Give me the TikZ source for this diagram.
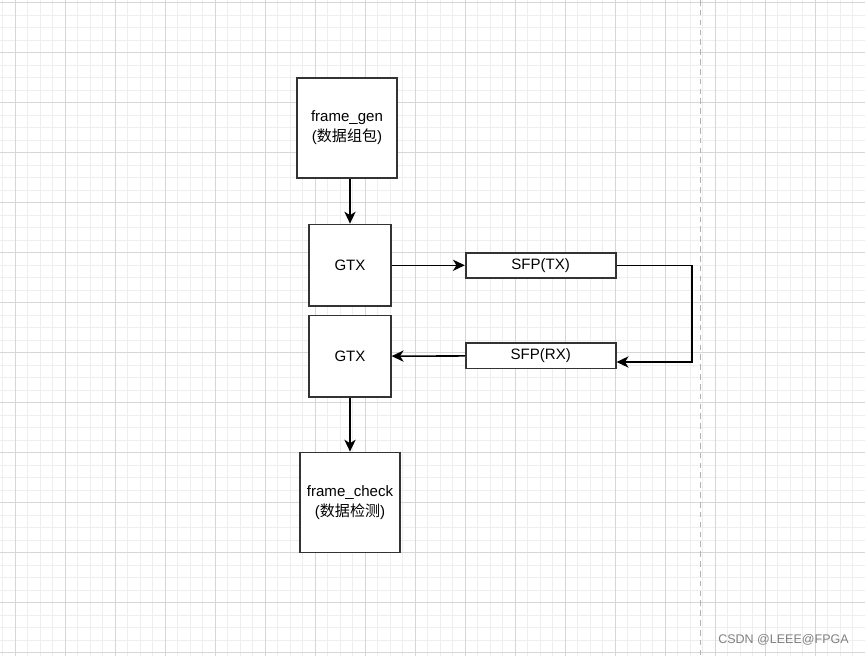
\documentclass[tikz,border=0pt]{standalone}
\usepackage{fontspec}
\setmainfont{Liberation Sans}
\newfontfamily\cjk{Noto Sans CJK SC}
\usepackage{tikz}
\usetikzlibrary{
  	positioning,
  	arrows.meta,
  	calc
  }
\definecolor{gridminor}{HTML}{EEEEEE}
\definecolor{gridmajor}{HTML}{D6D6D6}
\definecolor{boxline}{HTML}{333333}
\tikzstyle{blk}=[draw=boxline,line width=1.2pt,fill=white,align=center,inner sep=0pt,font=\fontsize{10.7}{14}\selectfont]
\tikzstyle{sq}=[blk,minimum width=2.5cm,minimum height=2.5cm]
\tikzstyle{gtx}=[blk,minimum width=2.04cm,minimum height=2.04cm]
\tikzstyle{sfp}=[blk,minimum width=3.75cm,minimum height=0.63cm]
\tikzstyle{arr}=[line width=1.1pt,-{Stealth[length=8.5pt,width=8pt,inset=2.5pt]}]

\begin{document}
\begin{tikzpicture}[x=0.025cm,y=-0.025cm]
  \useasboundingbox[fill=white] (0,0) rectangle (865,656);
  % grid
  \foreach \i in {0,...,69} \draw[gridminor,line width=0.5pt] (2.5+12.5*\i,0) -- (2.5+12.5*\i,656);
  \foreach \i in {0,...,52} \draw[gridminor,line width=0.5pt] (0,2.5+12.5*\i) -- (865,2.5+12.5*\i);
  \foreach \i in {0,...,17} \draw[gridmajor,line width=0.5pt] (15+50*\i,0) -- (15+50*\i,656);
  \foreach \i in {0,...,13} \draw[gridmajor,line width=0.5pt] (0,2.5+50*\i) -- (865,2.5+50*\i);
  \draw[gray!60,line width=0.7pt,dash pattern=on 4pt off 3pt] (700,0) -- (700,656);
%
  \node[sq] (gen) at (347,127.7) {frame\_gen\\({\cjk 数据组包})};
  \node[gtx] (gtx1) at (350,265.3) {GTX};
  \node[sfp] (tx) at (540.7,265.3) {SFP(TX)};
  \node[gtx] (gtx2) at (350,356.2) {GTX};
  \node[sfp] (rx) at (540.7,355.8) {SFP(RX)};
  \node[sq] (chk) at (350,502.5) {frame\_check\\({\cjk 数据检测})};
  \coordinate (turn) at (692,362);
%
  \draw[arr] (gen.south -| gtx1) -- (gtx1);
  \draw[arr] (gtx1) -- (tx);
  \draw[arr] (tx.east) -| (turn) -- (turn -| rx.east);
  \draw[arr] (rx) -- (gtx2);
  \draw[arr] (gtx2) -- (chk);
%
  \node[text=gray,font=\fontsize{8.9}{10}\selectfont] (mark) at (783.5,640) {CSDN @LEEE@FPGA};
\end{tikzpicture}
\end{document}
